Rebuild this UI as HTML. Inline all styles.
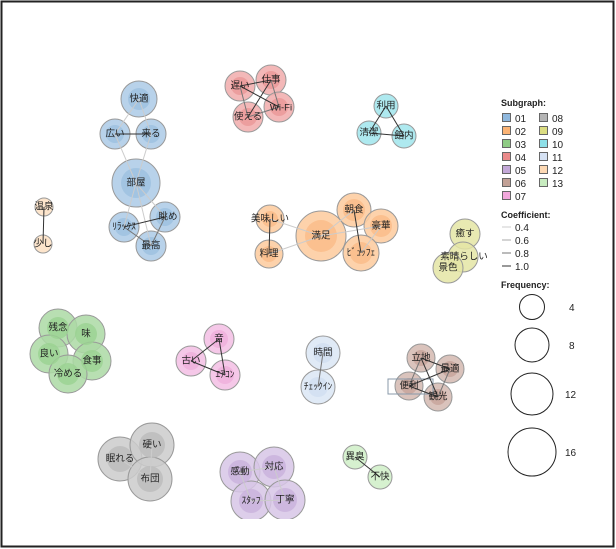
<!DOCTYPE html>
<html><head><meta charset="utf-8"><style>
html,body{margin:0;padding:0;background:#fff}
svg{display:block}
text{font-family:"Liberation Sans","Noto Sans CJK JP",sans-serif;fill:#222}
.l{font-size:9.5px;text-anchor:middle;dominant-baseline:central}
.g{font-size:10px}
.h{font-size:9px;font-weight:bold}
</style></head><body>
<svg width="616" height="549" viewBox="0 0 616 549" xmlns="http://www.w3.org/2000/svg">
<rect x="1.5" y="1.5" width="612" height="545" fill="#fff" stroke="#222" stroke-width="2"/>
<defs><clipPath id="cp"><rect x="0" y="0" width="616" height="519"/></clipPath></defs>
<g stroke="#999" stroke-width="1">
<g fill="#b8d2ea"><circle cx="139" cy="99" r="18"/><circle cx="115" cy="134" r="15"/><circle cx="151" cy="134" r="15"/><circle cx="136" cy="183" r="24"/><circle cx="165" cy="217" r="15"/><circle cx="124" cy="227" r="15"/><circle cx="151" cy="246" r="15"/></g>
<g fill="#a2c4e2" stroke="none"><circle cx="139" cy="99" r="11"/><circle cx="115" cy="134" r="9"/><circle cx="151" cy="134" r="9"/><circle cx="136" cy="183" r="15"/><circle cx="165" cy="217" r="9"/><circle cx="124" cy="227" r="9"/><circle cx="151" cy="246" r="9"/></g>
<g fill="#fde5cc"><circle cx="44" cy="207" r="9"/><circle cx="43" cy="244" r="9"/></g>
<g fill="#f2b0b0" fill-opacity="0.9"><circle cx="240" cy="86" r="15"/><circle cx="271" cy="80" r="15"/><circle cx="248" cy="117" r="15"/><circle cx="279" cy="107" r="15"/></g>
<g fill="#ec9e9e" stroke="none"><circle cx="240" cy="86" r="9"/><circle cx="271" cy="80" r="9"/><circle cx="248" cy="117" r="9"/><circle cx="279" cy="107" r="9"/></g>
<g fill="#aee9ef"><circle cx="386" cy="106" r="12"/><circle cx="369" cy="133" r="12"/><circle cx="404" cy="136" r="12"/></g>
<g fill="#fdcda2" fill-opacity="0.9"><circle cx="270" cy="219" r="14"/><circle cx="269" cy="254" r="14"/><circle cx="321" cy="236" r="25"/><circle cx="354" cy="210" r="17"/><circle cx="381" cy="226" r="17"/><circle cx="361" cy="253" r="18"/></g>
<g fill="#fbc08f" stroke="none"><circle cx="270" cy="219" r="8"/><circle cx="269" cy="254" r="8"/><circle cx="321" cy="236" r="16"/><circle cx="354" cy="210" r="11"/><circle cx="381" cy="226" r="11"/><circle cx="361" cy="253" r="11"/></g>
<g fill="#e4e5a4" fill-opacity="0.85"><circle cx="465" cy="234" r="15"/><circle cx="463" cy="257" r="15"/><circle cx="448" cy="268" r="15"/></g>
<g fill="#acd9a4" fill-opacity="0.85"><circle cx="58" cy="328" r="19"/><circle cx="86" cy="334" r="19"/><circle cx="49" cy="354" r="19"/><circle cx="92" cy="361" r="19"/><circle cx="68" cy="374" r="19"/></g>
<g fill="#9ad291" stroke="none" fill-opacity="0.8"><circle cx="58" cy="328" r="11"/><circle cx="86" cy="334" r="11"/><circle cx="49" cy="354" r="11"/><circle cx="92" cy="361" r="11"/><circle cx="68" cy="374" r="11"/></g>
<g fill="#f5c8e8"><circle cx="219" cy="339" r="15"/><circle cx="191" cy="361" r="15"/><circle cx="225" cy="375" r="15"/></g>
<g fill="#f0b4de" stroke="none"><circle cx="219" cy="339" r="9"/><circle cx="191" cy="361" r="9"/><circle cx="225" cy="375" r="9"/></g>
<g fill="#e0eaf6"><circle cx="323" cy="353" r="17"/><circle cx="318" cy="387" r="17"/></g>
<g fill="#d4e1f2" stroke="none"><circle cx="323" cy="353" r="10"/><circle cx="318" cy="387" r="10"/></g>
<g fill="#d6bdb5" fill-opacity="0.9"><circle cx="421" cy="358" r="14"/><circle cx="450" cy="369" r="14"/><circle cx="409" cy="386" r="14"/><circle cx="438" cy="397" r="14"/></g>
<g fill="#cbaaa1" stroke="none"><circle cx="421" cy="358" r="8"/><circle cx="450" cy="369" r="8"/><circle cx="409" cy="386" r="8"/><circle cx="438" cy="397" r="8"/></g>
<rect x="388" y="379" width="45" height="15" fill="none" stroke="#8899aa"/>
<g fill="#cbcbcb" fill-opacity="0.85"><circle cx="120" cy="459" r="22"/><circle cx="152" cy="445" r="22"/><circle cx="150" cy="479" r="22"/></g>
<g fill="#bcbcbc" stroke="none" fill-opacity="0.8"><circle cx="120" cy="459" r="13"/><circle cx="152" cy="445" r="13"/><circle cx="150" cy="479" r="13"/></g>
<g clip-path="url(#cp)">
<g fill="#d7c5e6" fill-opacity="0.85"><circle cx="240" cy="472" r="20"/><circle cx="274" cy="467" r="20"/><circle cx="251" cy="501" r="20"/><circle cx="285" cy="500" r="20"/></g>
<g fill="#c9b1dc" stroke="none" fill-opacity="0.8"><circle cx="240" cy="472" r="12"/><circle cx="274" cy="467" r="12"/><circle cx="251" cy="501" r="12"/><circle cx="285" cy="500" r="12"/></g>
</g>
<g fill="#d6f1cf"><circle cx="355" cy="457" r="12"/><circle cx="380" cy="477" r="12"/></g>
</g>
<g fill="none" stroke-width="1">
<g stroke="#ccc"><line x1="139" y1="99" x2="115" y2="134"/><line x1="139" y1="99" x2="151" y2="134"/><line x1="115" y1="134" x2="136" y2="183"/><line x1="151" y1="134" x2="136" y2="183"/><line x1="136" y1="183" x2="124" y2="227"/><line x1="136" y1="183" x2="151" y2="246"/><line x1="136" y1="183" x2="165" y2="217"/>
<line x1="270" y1="219" x2="321" y2="236"/><line x1="269" y1="254" x2="321" y2="236"/><line x1="321" y1="236" x2="354" y2="210"/><line x1="321" y1="236" x2="381" y2="226"/><line x1="381" y1="226" x2="361" y2="253"/>
<line x1="152" y1="445" x2="150" y2="479"/><line x1="120" y1="459" x2="150" y2="479"/><line x1="240" y1="472" x2="274" y2="467"/><line x1="251" y1="501" x2="285" y2="500"/><line x1="240" y1="472" x2="251" y2="501"/><line x1="274" y1="467" x2="285" y2="500"/></g>
<g stroke="#777"><line x1="124" y1="227" x2="151" y2="246"/><line x1="165" y1="217" x2="151" y2="246"/><line x1="240" y1="86" x2="248" y2="117"/><line x1="271" y1="80" x2="279" y2="107"/><line x1="248" y1="117" x2="279" y2="107"/><line x1="323" y1="353" x2="318" y2="387"/><line x1="450" y1="369" x2="438" y2="397"/><line x1="421" y1="358" x2="409" y2="386"/></g>
<g stroke="#333"><line x1="115" y1="134" x2="151" y2="134"/><line x1="124" y1="227" x2="165" y2="217"/><line x1="44" y1="207" x2="43" y2="244"/><line x1="240" y1="86" x2="271" y2="80"/><line x1="240" y1="86" x2="279" y2="107"/><line x1="271" y1="80" x2="248" y2="117"/>
<line x1="386" y1="106" x2="369" y2="133"/><line x1="386" y1="106" x2="404" y2="136"/><line x1="369" y1="133" x2="404" y2="136"/><line x1="270" y1="219" x2="269" y2="254"/><line x1="354" y1="210" x2="361" y2="253"/>
<line x1="219" y1="339" x2="191" y2="361"/><line x1="219" y1="339" x2="225" y2="375"/><line x1="191" y1="361" x2="225" y2="375"/><line x1="421" y1="358" x2="450" y2="369"/><line x1="421" y1="358" x2="438" y2="397"/><line x1="409" y1="386" x2="450" y2="369"/><line x1="409" y1="386" x2="438" y2="397"/><line x1="355" y1="457" x2="380" y2="477"/></g>
</g>
<g>
<text class="l" x="139" y="99">快適</text><text class="l" x="115" y="134">広い</text><text class="l" x="151" y="134">来る</text><text class="l" x="136" y="183">部屋</text><text class="l" x="168" y="217">眺め</text><text class="l" x="124" y="227">ﾘﾗｯｸｽ</text><text class="l" x="151" y="246">最高</text>
<text class="l" x="44" y="207">温泉</text><text class="l" x="43" y="244">少し</text>
<text class="l" x="240" y="86">遅い</text><text class="l" x="271" y="80">仕事</text><text class="l" x="248" y="117">使える</text><text class="l" x="281" y="108">Wi-Fi</text>
<text class="l" x="386" y="106">利用</text><text class="l" x="369" y="133">清潔</text><text class="l" x="404" y="136">館内</text>
<text class="l" x="270" y="219">美味しい</text><text class="l" x="269" y="254">料理</text><text class="l" x="321" y="236">満足</text><text class="l" x="354" y="210">朝食</text><text class="l" x="381" y="226">豪華</text><text class="l" x="361" y="253">ﾋﾞｭｯﾌｪ</text>
<text class="l" x="465" y="234">癒す</text><text class="l" x="464" y="257">素晴らしい</text><text class="l" x="448" y="268">景色</text>
<text class="l" x="58" y="328">残念</text><text class="l" x="86" y="334">味</text><text class="l" x="49" y="354">良い</text><text class="l" x="92" y="361">食事</text><text class="l" x="68" y="374">冷める</text>
<text class="l" x="219" y="339">音</text><text class="l" x="191" y="361">古い</text><text class="l" x="225" y="375">ｴｱｺﾝ</text>
<text class="l" x="323" y="353">時間</text><text class="l" x="318" y="387">ﾁｪｯｸｲﾝ</text>
<text class="l" x="421" y="358">立地</text><text class="l" x="450" y="369">最適</text><text class="l" x="409" y="386">便利</text><text class="l" x="438" y="397">観光</text>
<text class="l" x="120" y="459">眠れる</text><text class="l" x="152" y="445">硬い</text><text class="l" x="150" y="479">布団</text>
<text class="l" x="240" y="472">感動</text><text class="l" x="274" y="467">対応</text><text class="l" x="251" y="501">ｽﾀｯﾌ</text><text class="l" x="285" y="500">丁寧</text>
<text class="l" x="355" y="457">異臭</text><text class="l" x="380" y="477">不快</text>
</g>
<text class="h" x="501" y="106">Subgraph:</text>
<g stroke="#666" stroke-width="1">
<rect x="502.5" y="113.5" width="8" height="8" fill="#8fb8de"/><rect x="502.5" y="126.5" width="8" height="8" fill="#fbb374"/><rect x="502.5" y="139.5" width="8" height="8" fill="#8fcc85"/><rect x="502.5" y="152.5" width="8" height="8" fill="#ea8a8a"/><rect x="502.5" y="165.5" width="8" height="8" fill="#c3a8d8"/><rect x="502.5" y="178.5" width="8" height="8" fill="#c2a196"/><rect x="502.5" y="191.5" width="8" height="8" fill="#f2a8dc"/>
<rect x="539.5" y="113.5" width="8" height="8" fill="#b5b5b5"/><rect x="539.5" y="126.5" width="8" height="8" fill="#dcdd82"/><rect x="539.5" y="139.5" width="8" height="8" fill="#8ee0e8"/><rect x="539.5" y="152.5" width="8" height="8" fill="#d6e2f4"/><rect x="539.5" y="165.5" width="8" height="8" fill="#fdd9b4"/><rect x="539.5" y="178.5" width="8" height="8" fill="#c8ecc0"/>
</g>
<g class="g"><text x="515" y="122">01</text><text x="515" y="135">02</text><text x="515" y="148">03</text><text x="515" y="161">04</text><text x="515" y="174">05</text><text x="515" y="187">06</text><text x="515" y="200">07</text>
<text x="552" y="122">08</text><text x="552" y="135">09</text><text x="552" y="148">10</text><text x="552" y="161">11</text><text x="552" y="174">12</text><text x="552" y="187">13</text></g>
<text class="h" x="501" y="218">Coefficient:</text>
<line x1="502" y1="227" x2="511" y2="227" stroke="#ccc"/><line x1="502" y1="240" x2="511" y2="240" stroke="#aaa"/><line x1="502" y1="253" x2="511" y2="253" stroke="#777"/><line x1="502" y1="266" x2="511" y2="266" stroke="#333"/>
<g class="g"><text x="515" y="231">0.4</text><text x="515" y="244">0.6</text><text x="515" y="257">0.8</text><text x="515" y="270">1.0</text></g>
<text class="h" x="501" y="288">Frequency:</text>
<g fill="none" stroke="#222"><circle cx="532" cy="307" r="12.5"/><circle cx="532" cy="345" r="17"/><circle cx="532" cy="394" r="21"/><circle cx="532" cy="452" r="24"/></g>
<g class="g"><text x="569" y="311">4</text><text x="569" y="349">8</text><text x="565" y="398">12</text><text x="565" y="456">16</text></g>
</svg>
</body></html>
